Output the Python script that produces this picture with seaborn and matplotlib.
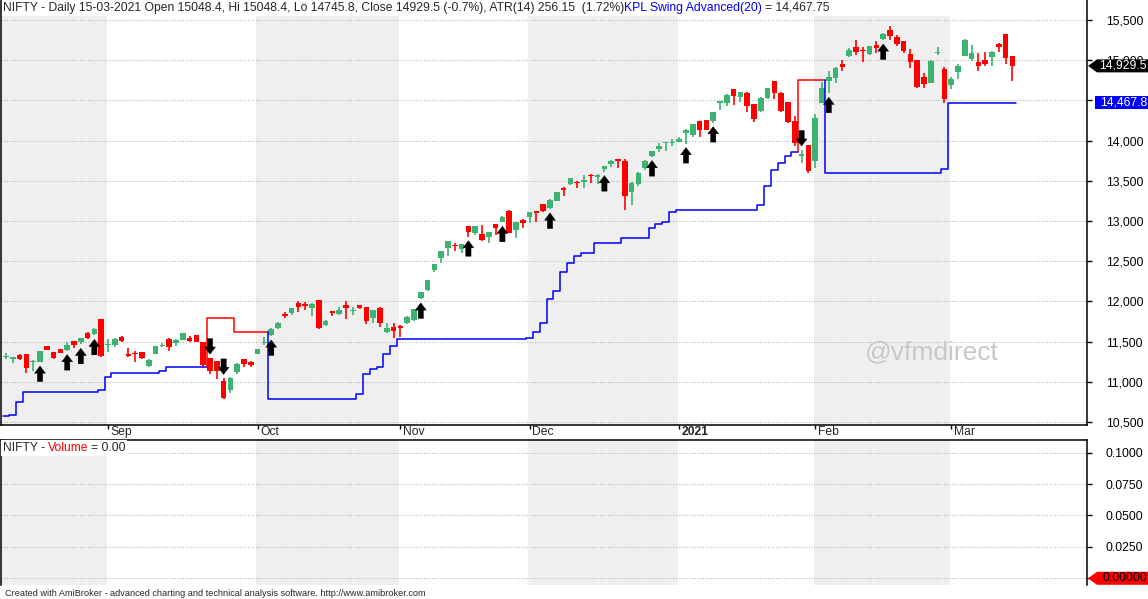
import numpy as np
import pandas as pd
import seaborn as sns
import matplotlib
matplotlib.use("Agg")
import matplotlib.pyplot as plt
import matplotlib.transforms as mtrans
from matplotlib.patches import Polygon

# NIFTY daily OHLC, 11-Aug-2020 .. 15-Mar-2021 (one value per trading day)
opens = [11315, 11279, 11333, 11345, 11242, 11250, 11445, 11370, 11407, 11395,
         11507, 11490, 11610, 11590, 11781, 11462, 11457, 11561, 11335, 11362,
         11370, 11200, 11345, 11447, 11528, 11478, 11519, 11540, 11582, 11494,
         11291, 11258, 11009, 10898, 11117, 11279, 11250, 11345, 11488, 11582,
         11673, 11835, 11851, 11976, 11957, 11913, 12017, 11706, 11880, 11839,
         11955, 11882, 11955, 11926, 11797, 11922, 11623, 11685, 11698, 11727,
         11768, 12046, 12141, 12390, 12543, 12667, 12695, 12655, 12937, 12854,
         12837, 12804, 12962, 12991, 13124, 12887, 13012, 13053, 13124, 13211,
         13165, 13252, 13400, 13455, 13482, 13497, 13576, 13542, 13650, 13709,
         13762, 13746, 13365, 13460, 13663, 13808, 13895, 13975, 13972, 13987,
         14099, 14070, 14244, 14256, 14248, 14478, 14471, 14641, 14538, 14596,
         14455, 14367, 14533, 14741, 14596, 14475, 14243, 13818, 13945, 13746,
         14472, 14745, 14783, 14953, 15056, 15160, 15122, 15073, 15189, 15264,
         15376, 15284, 15239, 15077, 15002, 14787, 14720, 15090, 14890, 14691,
         14857, 15056, 15015, 14982, 15002, 15044, 15201, 15326, 15048.4]
highs = [11354, 11310, 11345, 11350, 11268, 11388, 11450, 11375, 11410, 11499,
         11510, 11548, 11623, 11673, 11785, 11528, 11548, 11569, 11424, 11378,
         11374, 11283, 11445, 11486, 11540, 11528, 11606, 11569, 11585, 11500,
         11295, 11262, 11043, 11063, 11238, 11283, 11254, 11407, 11553, 11673,
         11748, 11872, 11921, 12009, 11996, 11975, 12022, 11765, 11885, 11934,
         12005, 11934, 11960, 11930, 11897, 11926, 11727, 11727, 11705, 11814,
         11905, 12120, 12270, 12470, 12630, 12755, 12721, 12718, 12940, 12942,
         12949, 12866, 12966, 13061, 13136, 12991, 13024, 13116, 13128, 13215,
         13273, 13364, 13418, 13535, 13497, 13571, 13584, 13584, 13688, 13759,
         13765, 13771, 13481, 13609, 13759, 13875, 13966, 13987, 14016, 14041,
         14144, 14210, 14248, 14260, 14356, 14496, 14579, 14645, 14605, 14608,
         14460, 14537, 14655, 14745, 14608, 14480, 14305, 13883, 13950, 14331,
         14729, 14866, 14910, 15002, 15148, 15251, 15160, 15181, 15239, 15334,
         15425, 15313, 15243, 15135, 15006, 14845, 15002, 15160, 14911, 14795,
         14953, 15264, 15189, 15094, 15098, 15110, 15218, 15330, 15048.4]
lows = [11287, 11237, 11271, 11113, 11138, 11245, 11390, 11279, 11358, 11387,
        11424, 11465, 11532, 11577, 11312, 11374, 11437, 11499, 11304, 11250,
        11279, 11188, 11340, 11428, 11387, 11449, 11515, 11499, 11495, 11188,
        11096, 11030, 10790, 10856, 11092, 11179, 11179, 11340, 11457, 11569,
        11652, 11797, 11826, 11872, 11893, 11822, 11656, 11700, 11822, 11826,
        11777, 11830, 11905, 11714, 11727, 11685, 11611, 11540, 11561, 11722,
        11756, 12030, 12128, 12369, 12481, 12568, 12630, 12605, 12804, 12821,
        12750, 12730, 12829, 12983, 12846, 12792, 12916, 12970, 12991, 13115,
        13148, 13248, 13314, 13450, 13405, 13405, 13476, 13455, 13613, 13676,
        13663, 13137, 13199, 13439, 13634, 13800, 13862, 13875, 13937, 13983,
        13962, 14049, 14049, 14128, 14223, 14380, 14434, 14442, 14484, 14351,
        14231, 14351, 14513, 14517, 14351, 14214, 13932, 13717, 13601, 13655,
        14465, 14588, 14720, 14870, 15044, 15065, 14982, 15069, 15094, 15251,
        15251, 15177, 15085, 14907, 14650, 14658, 14715, 15065, 14472, 14642,
        14766, 15050, 14994, 14870, 14932, 14932, 15106, 14953, 14745.8]
closes = [11322, 11304, 11283, 11167, 11262, 11383, 11395, 11296, 11362, 11457,
          11457, 11544, 11548, 11661, 11324, 11466, 11532, 11511, 11330, 11345,
          11300, 11271, 11441, 11451, 11428, 11519, 11602, 11507, 11499, 11208,
          11138, 11138, 10794, 11051, 11221, 11221, 11208, 11403, 11492, 11652,
          11735, 11830, 11917, 11926, 11950, 11968, 11665, 11760, 11855, 11893,
          11922, 11888, 11922, 11760, 11893, 11727, 11665, 11636, 11665, 11810,
          11901, 12116, 12265, 12464, 12626, 12750, 12690, 12713, 12866, 12937,
          12763, 12862, 12916, 13053, 12854, 12987, 12970, 13111, 13103, 13124,
          13260, 13360, 13395, 13530, 13477, 13501, 13555, 13571, 13683, 13750,
          13755, 13311, 13477, 13597, 13750, 13870, 13937, 13980, 13977, 14020,
          14132, 14206, 14132, 14132, 14352, 14484, 14567, 14558, 14600, 14434,
          14268, 14525, 14650, 14587, 14367, 14235, 13965, 13826, 13622, 14285,
          14650, 14795, 14907, 14919, 15127, 15106, 15115, 15177, 15152, 15326,
          15305, 15201, 15118, 14982, 14671, 14704, 14990, 15096, 14517, 14766,
          14928, 15251, 15085, 14932, 14953, 15106, 15168, 15031, 14929.5]

# KPL swing signals (bar index) and the trailing stop staircase
buy_bars = [5, 9, 11, 13, 39, 61, 68, 73, 80, 88, 95, 100, 104, 121, 129]
sell_bars = [30, 32, 117]
support_start = [0, 1, 2, 3, 14, 15, 16, 23, 24, 30, 34, 39, 52, 53, 54, 55, 56, 57,
                 58, 77, 78, 79, 80, 81, 82, 83, 84, 85, 87, 91, 95, 96, 97, 98, 99,
                 111, 112, 113, 114, 115, 116, 117, 121, 138, 139]
support_level = [10574, 10587, 10744, 10868, 10898, 11055, 11105, 11138, 11180, 11789,
                 11623, 10790, 10844, 11092, 11155, 11180, 11345, 11445, 11528, 11549,
                 11623, 11727, 12025, 12128, 12360, 12472, 12564, 12597, 12721, 12784,
                 12908, 12958, 12983, 13116, 13132, 13195, 13435, 13634, 13725, 13808,
                 13862, 14754, 13592, 13650, 14467.75]

month_names = ["Sep", "Oct", "Nov", "Dec", "2021", "Feb", "Mar"]
month_first_bar = [15, 37, 58, 77, 99, 119, 139]
price_ticks = list(range(10500, 15501, 500))
volume_ticks = [0.0, 0.025, 0.05, 0.075, 0.1]
last_volume = 0.0

title_main = "NIFTY - Daily 15-03-2021 Open 15048.4, Hi 15048.4, Lo 14745.8, Close 14929.5 (-0.7%), ATR(14) 256.15  (1.72%)"
title_ind = "KPL Swing Advanced(20)"
title_val = "= 14,467.75"
footer = "Created with AmiBroker - advanced charting and technical analysis software. http://www.amibroker.com"

GREEN, RED, BLUE, SHADE = "#3cb371", "#ff0000", "#0000ff", "#efefef"
FS = 8.7

sns.set_theme(style="white")
plt.rcParams["font.family"] = ["Liberation Sans", "DejaVu Sans"]

W, H = 1148, 599
fig = plt.figure(figsize=(W / 100, H / 100), dpi=100)
ax = fig.add_axes([1 / W, 1 - 425 / H, 1086 / W, 425 / H])
axv = fig.add_axes([1 / W, 14 / H, 1086 / W, 145 / H])

n = len(closes)
x = np.arange(n)
o, h, l, c = (np.array(v, dtype=float) for v in (opens, highs, lows, closes))
col = np.where(c >= o, GREEN, RED)

xlim = (-0.735, 158.97)
ylim = (10462.7, 15748.8)

# month shading (Aug, Oct, Dec, Feb)
edges = [xlim[0]] + [b - 0.2 for b in month_first_bar] + [xlim[1]]
for k in range(0, len(edges) - 1, 2):
    ax.axvspan(edges[k], edges[k + 1], ymin=0, ymax=(425 - 16) / 425, color=SHADE, lw=0, zorder=0)
    axv.axvspan(edges[k], edges[k + 1], color=SHADE, lw=0, zorder=0)

# candles
ax.vlines(x, l, h, colors=col, lw=1.2, zorder=3)
mid = (o + c) / 2
small = np.abs(c - o) < 16
bottom = np.where(small, mid - 8, np.minimum(o, c))
height = np.where(small, 16, np.abs(c - o))
ax.bar(x, height, bottom=bottom, width=0.8, color=col, linewidth=0, zorder=3)

# trailing stop staircase, blue while long, red while short
level = np.repeat(support_level, np.diff(support_start + [n]))
sig = pd.Series(0.0, index=x)
sig[buy_bars] = 1
sig[sell_bars] = -1
state = sig.replace(0, np.nan).ffill().fillna(1).values
seg_id = np.concatenate([[0], np.cumsum(state[1:] != state[:-1])])
for s in np.unique(seg_id):
    idx = x[seg_id == s]
    a, b = idx[0], idx[-1]
    xs = [a - 0.5] + list(idx - 0.5) + [b + 0.5]
    ys = [level[a - 1] if a > 0 else level[a]] + list(level[a:b + 1]) + [level[b]]
    sns.lineplot(x=xs, y=ys, estimator=None, sort=False, drawstyle="steps-post",
                 color=BLUE if state[a] > 0 else RED, lw=1.1, ax=ax, zorder=4)

# signal arrows
arrow = "simple,head_length=0.52,head_width=0.78,tail_width=0.38"
for i in buy_bars:
    ax.annotate("", xy=(i, lows[i]), xytext=(0, -14), textcoords="offset points",
                arrowprops=dict(arrowstyle=arrow, fc="black", ec="black", lw=0.3,
                                shrinkA=0, shrinkB=2.8, mutation_scale=10), zorder=5)
for i in sell_bars:
    ax.annotate("", xy=(i, highs[i]), xytext=(0, 14), textcoords="offset points",
                arrowprops=dict(arrowstyle=arrow, fc="black", ec="black", lw=0.3,
                                shrinkA=0, shrinkB=2.8, mutation_scale=10), zorder=5)

grid_kw = dict(color="#b4b4b4", lw=0.75, ls=(0, (1, 1.6)))
for axis, ticks, fmt, lim in ((ax, price_ticks, "{:,.0f}", ylim),
                              (axv, volume_ticks, "{:.4f}", (-0.00533, 0.1101))):
    axis.set_xlim(*xlim)
    axis.set_ylim(*lim)
    axis.set_yticks(ticks)
    axis.set_yticklabels([fmt.format(t) for t in ticks])
    axis.yaxis.tick_right()
    axis.tick_params(axis="y", which="both", right=True, left=False, direction="out",
                     length=3.6, width=1, color="black", pad=9.8, labelsize=FS, labelcolor="black")
    axis.grid(False)
    for t in ticks:
        axis.axhline(t, zorder=1, **grid_kw)
    axis.set_xlabel("")
    axis.set_ylabel("")
    axis.patch.set_alpha(0)
    for sp in axis.spines.values():
        sp.set_color("black")
        sp.set_linewidth(1.1)

ax.spines["top"].set_visible(False)
axv.spines["bottom"].set_visible(False)
axv.set_xticks([])
ax.set_xticks(month_first_bar)
ax.set_xticklabels([])
ax.tick_params(axis="x", bottom=True, direction="out", length=3, width=1, color="black")

blend = mtrans.blended_transform_factory(ax.transData, ax.transAxes)
for b, name in zip(month_first_bar, month_names):
    ax.text(b + 0.35, -0.0175, name, transform=blend, ha="left", va="center", fontsize=FS,
            fontweight="bold" if name == "2021" else "normal", clip_on=False)

ax.text(0.857, 0.172, "@vfmdirect", transform=ax.transAxes, ha="center", va="center",
        fontsize=19, color="#c8c8c8", zorder=2)

# chart title, in three colour pieces
t1 = fig.text(3 / W, 1 - 8 / H, title_main, fontsize=FS, ha="left", va="center")
t2 = ax.annotate(title_ind, xy=(1, 0), xycoords=t1, va="bottom", ha="left", fontsize=FS,
                 color=BLUE, annotation_clip=False)
ax.annotate(title_val, xy=(1, 0), xycoords=t2, xytext=(2.2, 0), textcoords="offset points",
            va="bottom", ha="left", fontsize=FS, annotation_clip=False)

# volume pane title
box = dict(fc="white", ec="none", pad=1.2)
v1 = axv.text(2 / 1086, (585 - 448) / 145, "NIFTY -", transform=axv.transAxes, fontsize=FS,
              ha="left", va="center", bbox=box, zorder=6)
v2 = axv.annotate("Volume", xy=(1, 0), xycoords=v1, xytext=(2.0, 0), textcoords="offset points",
                  va="bottom", ha="left", fontsize=FS, color=RED, bbox=box,
                  annotation_clip=False, zorder=6)
axv.annotate("= 0.00", xy=(1, 0), xycoords=v2, xytext=(2.0, 0), textcoords="offset points",
             va="bottom", ha="left", fontsize=FS, bbox=box, annotation_clip=False, zorder=6)

fig.text(5 / W, 1 - 593 / H, footer, fontsize=6.6, ha="left", va="center")

# price tags on the right axis
ident = mtrans.IdentityTransform()


def price_tag(axis, value, text, fc, tc, pointed):
    yd = axis.transData.transform((0, value))[1]
    x0 = 1097 if pointed else 1095
    verts = [(x0, yd + 6.5), (W, yd + 6.5), (W, yd - 6.5), (x0, yd - 6.5)]
    if pointed:
        verts.insert(0, (1088, yd))
    fig.add_artist(Polygon(verts, closed=True, transform=ident, fc=fc, ec="none", zorder=10))
    fig.text(1147 / W, yd / H, text, color=tc, ha="right", va="center", fontsize=FS, zorder=11)


price_tag(ax, closes[-1], f"{closes[-1]:,.1f}", "black", "white", True)
price_tag(ax, support_level[-1], f"{support_level[-1]:,.1f}", BLUE, "white", False)
price_tag(axv, last_volume, f"{last_volume:.5f}", RED, "black", True)

fig.savefig("out.png", dpi=100)
